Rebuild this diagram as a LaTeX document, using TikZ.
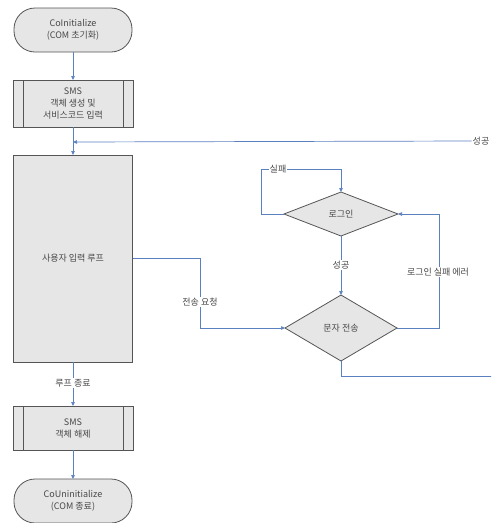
\documentclass[tikz,border=0pt]{standalone}
\usepackage{fontspec}
\setmainfont{Noto Sans CJK KR}
\usetikzlibrary{shapes.geometric,arrows.meta}
\definecolor{boxfill}{HTML}{E6E6E6}
\definecolor{boxline}{HTML}{555555}
\definecolor{conn}{HTML}{5B80C0}
\definecolor{txt}{HTML}{484848}
\tikzset{
  base/.style={draw=boxline, line width=0.8pt, fill=boxfill, inner sep=0pt, outer sep=0pt, text=txt, font=\fontsize{9}{12}\selectfont, align=center},
  term/.style={base, rectangle, rounded corners=21pt, minimum width=118pt, minimum height=44pt},
  proc/.style={base, rectangle, minimum width=120pt, minimum height=47pt},
  bigbox/.style={base, rectangle, minimum width=119pt, minimum height=207pt},
  decide/.style={base, diamond, aspect=2.5},
  conn/.style={draw=conn, line width=0.7pt, -{Triangle[length=4pt,width=3.5pt]}},
  plain/.style={draw=conn, line width=0.7pt},
  lbl/.style={fill=white, inner sep=1pt, text=txt, font=\fontsize{9}{12}\selectfont}
}
\begin{document}
\begin{tikzpicture}[x=1pt,y=-1pt]
\useasboundingbox (0,0) rectangle (491,523);
\clip (0,0) rectangle (491,523);
% nodes
\node[term] (start) at (73,30) {CoInitialize\\(COM 초기화)};
\node[proc] (sms1) at (73,103.5) {SMS\\객체 생성 및\\서비스코드 입력};
\draw[boxline, line width=0.8pt] ([xshift=10pt]sms1.north west) -- ([xshift=10pt]sms1.south west)
  ([xshift=-10pt]sms1.north east) -- ([xshift=-10pt]sms1.south east);
\node[bigbox] (loop) at (73,258.5) {사용자 입력 루프};
\node[decide, minimum width=114pt, minimum height=44pt] (login) at (341,214) {로그인};
\node[decide, minimum width=112pt, minimum height=66pt] (send) at (341,328) {문자 전송};
\node[proc, minimum height=44pt] (sms2) at (73,428) {SMS\\객체 해제};
\draw[boxline, line width=0.8pt] ([xshift=10pt]sms2.north west) -- ([xshift=10pt]sms2.south west)
  ([xshift=-10pt]sms2.north east) -- ([xshift=-10pt]sms2.south east);
\node[term] (end) at (73,501) {CoUninitialize\\(COM 종료)};
% coordinates
\coordinate (m) at (73,142);
\coordinate (r) at (495,376);
\node[lbl, anchor=east] (succtop) at (490.5,141) {성공};
% connectors
\draw[conn] (start) -- (sms1);
\draw[plain] (sms1) -- (m);
\draw[conn] (m) -- (loop.north);
\draw[conn] (succtop.west) -- (m);
\draw[conn] (loop.east |- 0,258) -- (200,258) -- (200,328) -- (send.west);
\node[lbl] at (200,302) {전송 요청};
\draw[conn] (login.west) -- (261,214) -- (261,169) -- (341,169) -- (login.north);
\node[lbl] at (278,169) {실패};
\draw[conn] (login.south) -- (send.north);
\node[lbl] at (341,265) {성공};
\draw[conn] (send.east) -- (439,328) -- (439,214) -- (login.east);
\node[lbl] at (438,272) {로그인 실패 에러};
\draw[plain] (send.south) -- (341,376) -- (r);
\draw[conn] (loop.south) -- (sms2.north);
\node[lbl] at (73,383) {루프 종료};
\draw[conn] (sms2) -- (end);
\end{tikzpicture}
\end{document}
